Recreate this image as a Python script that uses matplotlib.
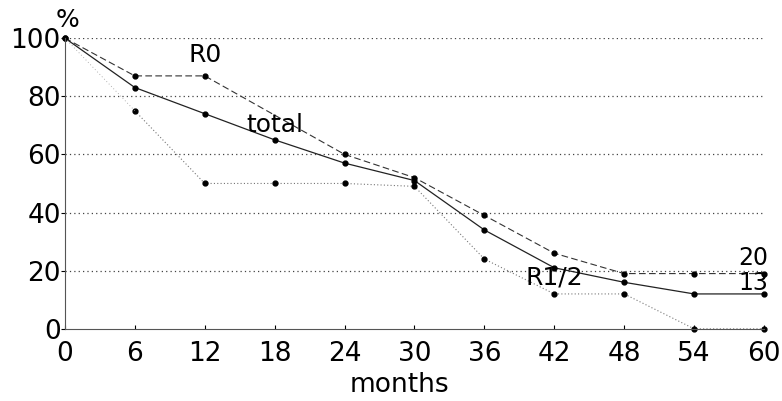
import matplotlib.pyplot as plt

plt.rcParams['font.family'] = ['DejaVu Sans']

months = [0, 6, 12, 18, 24, 30, 36, 42, 48, 54, 60]
total = [100, 83, 74, 65, 57, 51, 34, 21, 16, 12, 12]
r0_months = [0, 6, 12, 24, 30, 36, 42, 48, 54, 60]
r0 = [100, 87, 87, 60, 52, 39, 26, 19, 19, 19]
r12 = [100, 75, 50, 50, 50, 49, 24, 12, 12, 0, 0]
yticks = [0, 20, 40, 60, 80, 100]

fig = plt.figure(figsize=(7.82, 4.01), dpi=100)
ax = fig.add_axes([0.083, 0.18, 0.894, 0.725])

ax.plot(r0_months, r0, color='#333333', lw=0.8, ls=(0, (6, 3)),
        marker='o', ms=3.5, mfc='black', mec='black', clip_on=False)
ax.plot(months, total, color='#222222', lw=0.9, ls='-',
        marker='o', ms=3.5, mfc='black', mec='black', clip_on=False)
ax.plot(months[1:], r12[1:], color='#777777', lw=0.8, ls=(0, (1, 2)),
        marker='o', ms=3.5, mfc='black', mec='black', clip_on=False)
ax.plot(months[:2], r12[:2], color='#999999', lw=0.6, ls=(0, (1, 3)))

ax.set_xlim(0, 60)
ax.set_ylim(0, 100)
ax.set_xticks(months)
ax.set_yticks(yticks)
ax.tick_params(axis='y', labelsize=19, length=3, width=0.8, pad=0)
ax.tick_params(axis='x', labelsize=19, length=3, width=0.8,
               direction='in', pad=9)
for v in yticks[1:]:
    ax.axhline(v, color='#444444', lw=0.9, ls=(0, (1, 2.5)), zorder=0)

for s in ['top', 'right']:
    ax.spines[s].set_visible(False)
ax.spines['left'].set_color('#555555')
ax.spines['bottom'].set_color('#555555')

ax.text(12, 90, 'R0', fontsize=18, ha='center', va='bottom')
ax.text(18, 70, 'total', fontsize=18, ha='center', va='center')
ax.text(42, 17.5, 'R1/2', fontsize=18, ha='center', va='center')
ax.text(60.4, 22.0, '20', fontsize=17, ha='right', va='baseline')
ax.text(60.4, 13.4, '13', fontsize=17, ha='right', va='baseline')
ax.text(0.2, 102, '%', fontsize=18, ha='center', va='bottom')
ax.set_xlabel('months', fontsize=19)
ax.xaxis.set_label_coords(0.478, -0.15)
ax.xaxis.label.set_va('top')

fig.savefig('out.png', dpi=100)
